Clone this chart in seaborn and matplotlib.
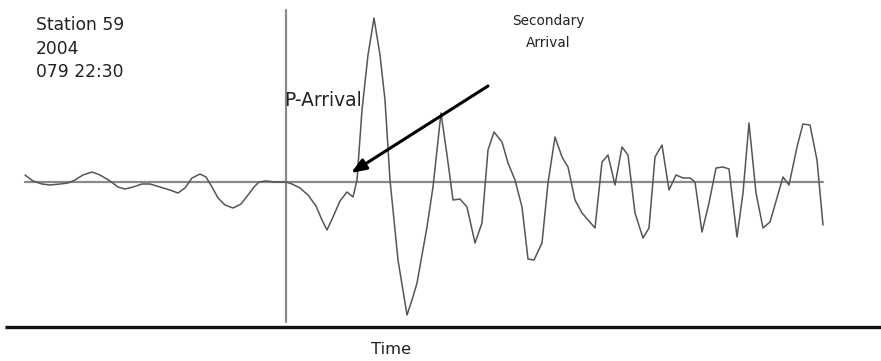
import numpy as np
import pandas as pd
import matplotlib
matplotlib.use("Agg")
import matplotlib.pyplot as plt
import seaborn as sns

# ---- data: time (samples relative to P-arrival) and amplitude ----
time = [-261, -253, -244, -236, -226, -218, -211, -203, -194, -186, -176, -168,
        -161, -153, -144, -136, -126, -116, -108, -101, -94, -86, -80, -74,
        -68, -61, -53, -45, -38, -32, -27, -20, -11, 0,
        6, 14, 22, 30, 36, 41, 47, 54, 61, 67, 71, 76, 82, 88, 94, 99, 104,
        112, 121, 126, 131, 141, 147, 155, 161, 167, 174, 181, 189, 196, 202,
        208, 216, 222, 229, 236, 242, 248, 256, 262, 269, 276, 282, 289, 296,
        309, 316, 322, 329, 336, 342, 349, 357, 363, 369, 376, 383, 390, 397,
        404, 409, 416, 423, 430, 437, 443, 451, 457, 463, 470, 477, 484, 497,
        503, 511, 517, 524, 531, 537]
amplitude = [7, 1, -2, -3, -2, -1, 2, 7, 10, 7, 1, -5,
             -7, -5, -2, -2, -5, -8, -11, -6, 4, 8, 5, -5,
             -16, -23, -26, -22, -13, -5, 0, 1, 0, 0,
             -2, -6, -13, -24, -38, -48, -35, -19, -10, -15, 2, 72, 127, 164,
             127, 82, 2, -78, -133, -118, -101, -45, -5, 69, 27, -18, -17, -25,
             -61, -41, 32, 50, 40, 19, 2, -25, -77, -78, -61, -1, 45, 25, 15,
             -18, -31, -46, 20, 27, -3, 35, 27, -31, -56, -46, 25, 37, -8, 7,
             4, 4, 0, -50, -21, 14, 15, 13, -55, -11, 59, -11, -46, -40, 5, -3,
             35, 58, 57, 22, -43]

annotation_lines = ["Station 59", "2004", "079 22:30"]
p_label = "P-Arrival"
secondary_label = "Secondary\nArrival"
x_label = "Time"

df = pd.DataFrame({"time": time, "amplitude": amplitude})

sns.set_style("white")
plt.rcParams['font.family'] = ['DejaVu Sans']

fig = plt.figure(figsize=(8.81, 3.61), dpi=100)
ax = fig.add_axes([0, 0, 1, 1])
ax.set_xlim(-286, 595)
ax.set_ylim(-179, 182)
ax.axis("off")

# reference lines
ax.plot([-261, 537], [0, 0], color="#8a8a8a", lw=1.6, zorder=1)
ax.plot([0, 0], [172, -140], color="#8a8a8a", lw=1.6, zorder=1)

sns.lineplot(data=df, x="time", y="amplitude", ax=ax, sort=False,
             estimator=None, color="#555555", lw=1.1, zorder=2)

# bottom time axis line
ax.plot([-281, 595], [-145, -145], color="#111111", lw=2.4, zorder=3,
        solid_capstyle="butt")

for i, line in enumerate(annotation_lines):
    ax.text(-250, 157 - i * 23.5, line, fontsize=12.3, color="#222222",
            va="center", ha="left")
ax.text(-2, 82, p_label, fontsize=13.4, color="#222222", va="center", ha="left")
ax.text(262, 150, secondary_label, fontsize=9.8, color="#222222", va="center",
        ha="center", multialignment="center", linespacing=1.75)
ax.annotate("", xy=(65, 9), xytext=(202, 96),
            arrowprops=dict(arrowstyle="-|>,head_length=0.9,head_width=0.35",
                            color="black", lw=2.2, shrinkA=0, shrinkB=0))
ax.text(105, -168, x_label, fontsize=11.8, color="#222222", va="center",
        ha="center")

fig.savefig("out.png", dpi=100)
